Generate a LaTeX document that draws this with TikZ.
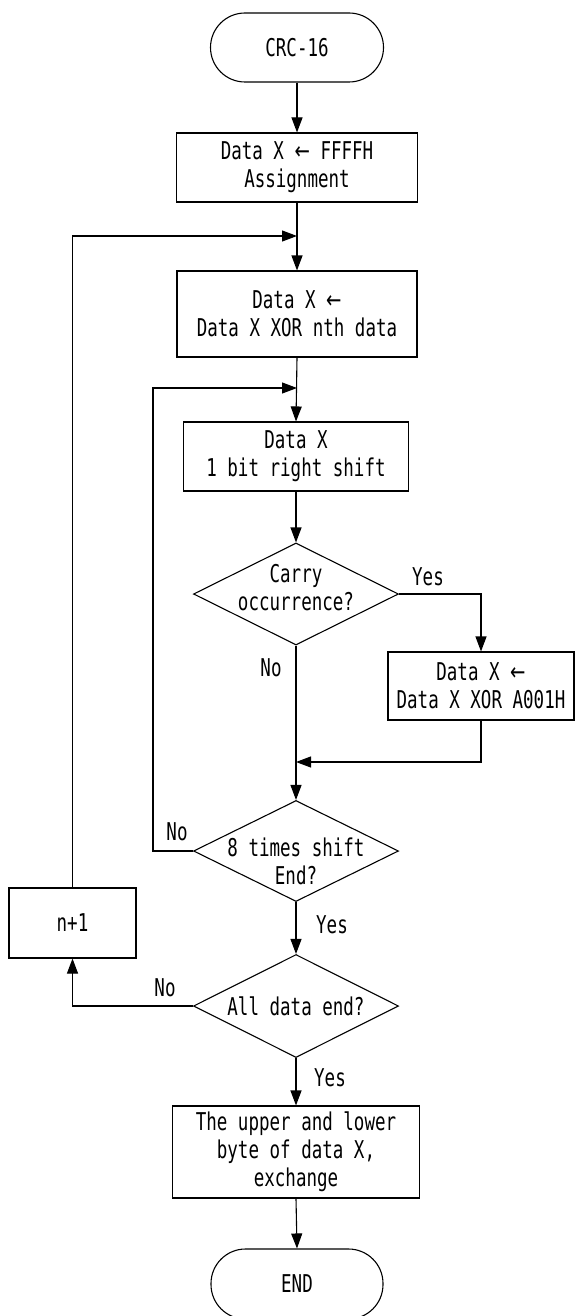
\documentclass[tikz,border=0pt]{standalone}
\usepackage{fontspec}
\newfontfamily\diagfont[FakeStretch=0.715]{DejaVu Sans Mono}
\newfontfamily\arrowfont[FakeStretch=0.75]{DejaVu Sans}
\newcommand{\larr}{{\arrowfont ←}}
\usetikzlibrary{shapes.geometric,arrows.meta}
\begin{document}
\begin{tikzpicture}[x=1pt,y=-1pt,
  font=\diagfont\fontsize{24.5}{28}\selectfont,
  line width=1.1pt,
  >={Triangle[length=15pt,width=11pt]},
  every node/.style={inner sep=0pt},
  terminal/.style={draw,rectangle,rounded corners=34.5pt,minimum width=173pt,minimum height=69pt},
  process/.style={draw,rectangle,align=center},
  decision/.style={draw,diamond,minimum width=205pt,minimum height=102pt},
  dtext/.style={align=center},
  lbl/.style={}]
\useasboundingbox (0,0) rectangle (574,1316);

% main column
\node[terminal] (start) at (297,47.5) {CRC-16};
\node[process,minimum width=241pt,minimum height=69pt] (init) at (297,167.5) {Data X \larr{} FFFFH\\Assignment};
\node[process,minimum width=240pt,minimum height=86pt] (xorn) at (297,314) {Data X \larr\\Data X XOR nth data};
\node[process,minimum width=225pt,minimum height=69pt] (shift) at (296,456.5) {Data X\\1 bit right shift};
\node[decision] (carry) at (296,594) {};
\node[dtext] (carrytxt) at (296,588) {Carry\\occurrence?};
\node[process,minimum width=186pt,minimum height=68pt] (xora) at (481,686) {Data X \larr\\Data X XOR A001H};
\node[decision,minimum height=101pt] (eight) at (296,851) {};
\node[dtext] (eighttxt) at (296,861) {8 times shift\\End?};
\node[process,minimum width=127pt,minimum height=70pt] (next) at (72.5,923) {n+1};
\node[decision,minimum height=103pt] (alld) at (296,1006) {};
\node[dtext] (alldtxt) at (296,1006) {All data end?};
\node[process,minimum width=247pt,minimum height=92pt] (swap) at (296,1152) {The upper and lower\\byte of data X,\\exchange};
\node[terminal,minimum width=172pt,minimum height=70pt] (stop) at (297,1284) {END};

% junction points on the main line
\coordinate (j1) at (297,236);
\coordinate (j2) at (297,388);
\coordinate (j3) at (296,762);
\coordinate (c2) at (153,388);

% connectors
\draw[->] (start.south) -- (init.north);
\draw[->] (init.south) -- (xorn.north);
\draw[->] (xorn.south) -- (shift.north);
\draw[->] (shift.south) -- (carry.north);
\draw[->] (carry.east) -| (xora.north);
\draw[->] (carry.south) -- (eight.north);
\draw[->] (xora.south) |- (j3);
\draw[->] (eight.west) -| (c2) -- (j2);
\draw[->] (eight.south) -- (alld.north);
\draw[->] (alld.west) -| (next.south);
\draw[->] (next.north) |- (j1);
\draw[->] (alld.south) -- (swap.north);
\draw[->] (swap.south) -- (stop.north);

% branch labels
\node[lbl] (yes1) at (428,577) {Yes};
\node[lbl] (no1) at (271,668) {No};
\node[lbl] (no2) at (177,832) {No};
\node[lbl] (yes2) at (332,925) {Yes};
\node[lbl] (no3) at (165,988) {No};
\node[lbl] (yes3) at (330,1078) {Yes};
\end{tikzpicture}
\end{document}
